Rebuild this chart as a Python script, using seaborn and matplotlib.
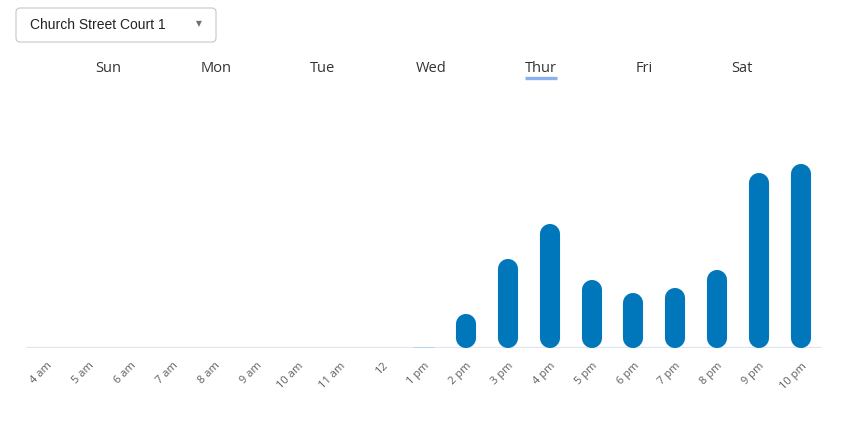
import matplotlib
matplotlib.use("Agg")
import matplotlib.pyplot as plt
import seaborn as sns
import pandas as pd
from matplotlib.patches import FancyBboxPatch

hours = ["4 am", "5 am", "6 am", "7 am", "8 am", "9 am", "10 am", "11 am", "12",
         "1 pm", "2 pm", "3 pm", "4 pm", "5 pm", "6 pm", "7 pm", "8 pm", "9 pm", "10 pm"]
values = [0, 0, 0, 0, 0, 0, 0, 0, 0,
          0.08, 3.4, 8.9, 12.4, 6.8, 5.5, 6.0, 7.8, 17.5, 18.4]
days = ["Sun", "Mon", "Tue", "Wed", "Thur", "Fri", "Sat"]
selected_day = "Thur"
court = "Church Street Court 1"

BAR = "#0077bb"
W, H = 848, 421
YMAX = 24.8

sns.set_theme(style="white")
plt.rcParams["font.family"] = ["Open Sans", "DejaVu Sans"]

fig = plt.figure(figsize=(W / 100, H / 100), dpi=100)
ax = fig.add_axes([26 / W, (H - 348) / H, 796 / W, 248 / H])

df = pd.DataFrame({"hour": hours, "value": values})
sns.barplot(data=df, x="hour", y="value", color=BAR, saturation=1, width=0.48, ax=ax)
ax.set_xlim(-0.5, len(hours) - 0.5)
ax.set_ylim(0, YMAX)

# turn the bars into pills (round-capped thick lines)
fig.canvas.draw()
bbox = ax.get_window_extent()
ypp = YMAX / bbox.height          # data units per pixel in y
xpp = len(hours) / bbox.width     # data units per pixel in x
for p in list(ax.patches):
    x, y = p.get_x(), p.get_y()
    w, h = p.get_width(), p.get_height()
    if h <= 0:
        p.remove()
        continue
    wpx = w / xpp
    r = (wpx / 2) * ypp
    if h < 2 * r:
        p.set_facecolor("#b5d3ec")
        p.set_edgecolor("none")
        p.set_linewidth(0)
        p.set_zorder(3)
        continue
    cx = x + w / 2
    ax.plot([cx, cx], [y + r, y + h - r], color=BAR, lw=wpx * 72 / 100,
            solid_capstyle="round", zorder=3)
    p.remove()

ax.axhline(0, color="#dfe5ee", lw=1.6, zorder=1)
for s in ax.spines.values():
    s.set_visible(False)
ax.set_xlabel("")
ax.set_ylabel("")
ax.set_yticks([])
ax.tick_params(axis="x", length=0, pad=9)
ax.set_xticks(range(len(hours)))
ax.set_xticklabels(hours, rotation=45, ha="right", va="top", rotation_mode="anchor",
                   fontsize=8, color="#5f5f5f")

# day tabs
day_x = [108, 216, 323, 431, 541, 644, 742]
for d, x in zip(days, day_x):
    fig.text(x / W, 1 - 67 / H, d, ha="center", va="center_baseline", fontsize=10.5,
             color="#333333")
    if d == selected_day:
        fig.add_artist(plt.Line2D([525 / W, 557 / W], [1 - 78 / H, 1 - 78 / H],
                                  color="#8ab0ef", lw=2.4, solid_capstyle="butt"))

# dropdown
box = FancyBboxPatch((16 / W, 1 - 42 / H), 200 / W, 34 / H,
                     boxstyle="round,pad=0,rounding_size=0.005",
                     mutation_aspect=W / H,
                     transform=fig.transFigure, facecolor="white",
                     edgecolor="#c8c8c8", lw=0.8)
fig.add_artist(box)
fig.text(30 / W, 1 - 25 / H, court, ha="left", va="center", fontsize=10,
         family=["Liberation Sans", "DejaVu Sans"], color="#222222")
fig.text(199 / W, 1 - 24 / H, "▼", ha="center", va="center", fontsize=5.5,
         color="#707070", family=["DejaVu Sans"])

fig.savefig("out.png", dpi=100)
